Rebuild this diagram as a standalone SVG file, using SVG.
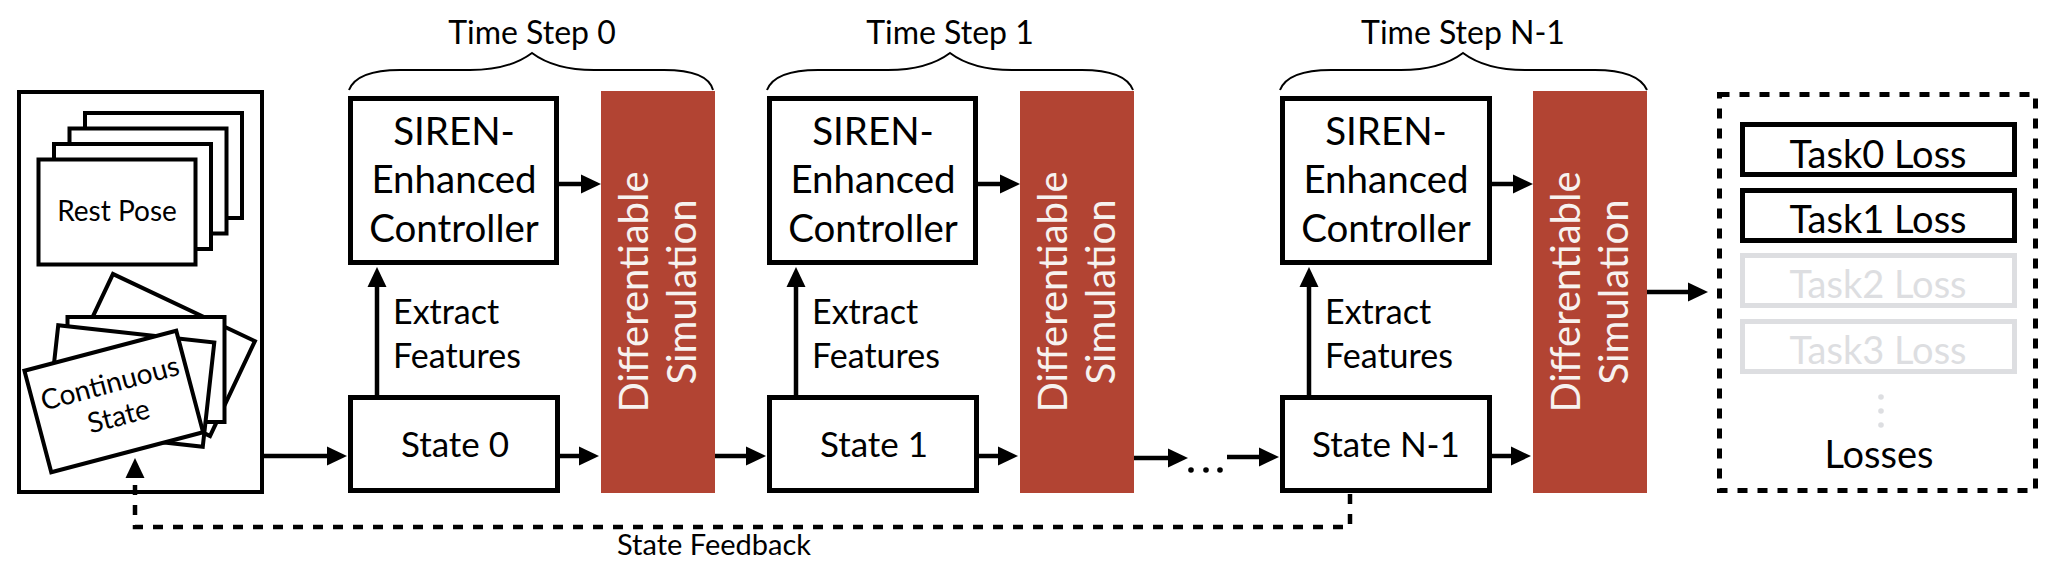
<svg xmlns="http://www.w3.org/2000/svg" width="2048" height="572" viewBox="0 0 2048 572">
<defs>
<style>
text{font-family:Lato,"Open Sans","Liberation Sans",sans-serif;fill:#000}
.box{fill:#fff;stroke:#000;stroke-width:5}
.card{fill:#fff;stroke:#000;stroke-width:4}
.sim{fill:#b24433}
.simt{fill:#f7f2ef;font-size:40px;text-anchor:middle}
.ctl{font-size:38.5px;text-anchor:middle}
.st{font-size:35px;text-anchor:middle}
.ex{font-size:34px}
.ts{font-size:32px;text-anchor:middle}
.brace{fill:none;stroke:#000;stroke-width:2}
.conn{fill:none;stroke:#000;stroke-width:4.5}
.dash{fill:none;stroke:#000;stroke-width:4.5;stroke-dasharray:10 10}
.task{fill:#fff;stroke:#000;stroke-width:5}
.taskg{fill:#fff;stroke:#dddee1;stroke-width:5}
.tt{font-size:38px;text-anchor:middle}
.ttg{font-size:38px;text-anchor:middle;fill:#dddee1}
</style>
<marker id="ah" viewBox="0 0 20 20" refX="0" refY="10" markerWidth="20" markerHeight="20" markerUnits="userSpaceOnUse" orient="auto">
<path d="M0,0.5 L20,10 L0,19.5 Z" fill="#000"/>
</marker>
</defs>
<rect width="2048" height="572" fill="#fff"/>

<g id="input">
<rect x="19" y="92" width="243" height="400" fill="#fff" stroke="#000" stroke-width="4"/>
<g id="rest-pose">
<rect class="card" x="85" y="113" width="157" height="105"/>
<rect class="card" x="69.5" y="128.5" width="157" height="105"/>
<rect class="card" x="54" y="144" width="157" height="105"/>
<rect class="card" x="38.5" y="159.5" width="157" height="105"/>
<text x="117" y="221" font-size="28" text-anchor="middle">Rest Pose</text>
</g>
<g id="continuous-state">
<rect class="card" x="-78.5" y="-52.5" width="157" height="105" transform="translate(161.5,355) rotate(25.3)"/>
<rect class="card" x="-78.5" y="-52.5" width="157" height="105" transform="translate(146,369.5)"/>
<rect class="card" x="-78.5" y="-52.5" width="157" height="105" transform="translate(130.5,386) rotate(6.3)"/>
<g transform="translate(113.75,401.5) rotate(-14.8)">
<rect class="card" x="-78.5" y="-52.5" width="157" height="105"/>
<text x="1" y="-9" font-size="28" text-anchor="middle">Continuous</text>
<text x="1" y="25" font-size="28" text-anchor="middle">State</text>
</g>
</g>
</g>

<g id="step0">
<path class="brace" d="M349,90 C355,75 375,70 400,70 L470,70 C500,70 520,62 532,53 C544,62 564,70 594,70 L664,70 C689,70 709,75 713,90"/>
<text class="ts" x="532" y="44">Time Step 0</text>
<g id="controller0">
<rect class="box" x="350.5" y="98.5" width="206" height="164"/>
<text class="ctl" x="454" y="145">SIREN-</text>
<text class="ctl" x="454" y="193">Enhanced</text>
<text class="ctl" x="454" y="242">Controller</text>
</g>
<g id="state0">
<rect class="box" x="350.5" y="397.5" width="207" height="93"/>
<text class="st" x="455" y="457">State 0</text>
</g>
<text class="ex" x="393" y="324">Extract</text>
<text class="ex" x="393" y="368">Features</text>
<g id="sim0">
<rect class="sim" x="601" y="91" width="114" height="402"/>
<text class="simt" transform="translate(648,292) rotate(-90)">Differentiable</text>
<text class="simt" transform="translate(696,292) rotate(-90)">Simulation</text>
</g>
</g>

<g id="step1">
<path class="brace" d="M767,90 C773,75 793,70 818,70 L888,70 C918,70 938,62 950,53 C962,62 982,70 1012,70 L1082,70 C1107,70 1127,75 1133,90"/>
<text class="ts" x="950" y="44">Time Step 1</text>
<g id="controller1">
<rect class="box" x="769.5" y="98.5" width="206" height="164"/>
<text class="ctl" x="873" y="145">SIREN-</text>
<text class="ctl" x="873" y="193">Enhanced</text>
<text class="ctl" x="873" y="242">Controller</text>
</g>
<g id="state1">
<rect class="box" x="769.5" y="397.5" width="207" height="93"/>
<text class="st" x="874" y="457">State 1</text>
</g>
<text class="ex" x="812" y="324">Extract</text>
<text class="ex" x="812" y="368">Features</text>
<g id="sim1">
<rect class="sim" x="1020" y="91" width="114" height="402"/>
<text class="simt" transform="translate(1067,292) rotate(-90)">Differentiable</text>
<text class="simt" transform="translate(1115,292) rotate(-90)">Simulation</text>
</g>
</g>

<g id="stepN">
<path class="brace" d="M1280,90 C1286,75 1306,70 1331,70 L1401,70 C1431,70 1451,62 1463,53 C1475,62 1495,70 1525,70 L1595,70 C1620,70 1640,75 1647,90"/>
<text class="ts" x="1463" y="44">Time Step N-1</text>
<g id="controllerN">
<rect class="box" x="1282.5" y="98.5" width="207" height="164"/>
<text class="ctl" x="1386" y="145">SIREN-</text>
<text class="ctl" x="1386" y="193">Enhanced</text>
<text class="ctl" x="1386" y="242">Controller</text>
</g>
<g id="stateN">
<rect class="box" x="1282.5" y="397.5" width="207" height="93"/>
<text class="st" x="1386" y="457">State N-1</text>
</g>
<text class="ex" x="1325" y="324">Extract</text>
<text class="ex" x="1325" y="368">Features</text>
<g id="simN">
<rect class="sim" x="1533" y="91" width="114" height="402"/>
<text class="simt" transform="translate(1580,292) rotate(-90)">Differentiable</text>
<text class="simt" transform="translate(1628,292) rotate(-90)">Simulation</text>
</g>
</g>

<g id="ellipsis">
<circle cx="1191" cy="470" r="2.8"/>
<circle cx="1206" cy="470" r="2.8"/>
<circle cx="1220" cy="470" r="2.8"/>
</g>

<g id="losses">
<rect x="1719.5" y="94.5" width="316" height="396" fill="#fff" stroke="#000" stroke-width="5" stroke-dasharray="10 10"/>
<rect class="task" x="1742.5" y="124.5" width="272" height="50"/>
<text class="tt" x="1878" y="168">Task0 Loss</text>
<rect class="task" x="1742.5" y="190.5" width="272" height="50"/>
<text class="tt" x="1878" y="233">Task1 Loss</text>
<rect class="taskg" x="1742.5" y="255.5" width="272" height="50"/>
<text class="ttg" x="1878" y="298">Task2 Loss</text>
<rect class="taskg" x="1742.5" y="321.5" width="272" height="50"/>
<text class="ttg" x="1878" y="364">Task3 Loss</text>
<circle cx="1881" cy="397" r="2.8" fill="#dddee1"/>
<circle cx="1881" cy="411" r="2.8" fill="#dddee1"/>
<circle cx="1881" cy="425" r="2.8" fill="#dddee1"/>
<text class="tt" x="1879" y="468">Losses</text>
</g>

<g id="connectors">
<path class="conn" marker-end="url(#ah)" d="M262,456 H327"/>
<path class="conn" marker-end="url(#ah)" d="M559,184 H581"/>
<path class="conn" marker-end="url(#ah)" d="M560,456 H579"/>
<path class="conn" marker-end="url(#ah)" d="M377,395 V287"/>
<path class="conn" marker-end="url(#ah)" d="M715,456 H746"/>
<path class="conn" marker-end="url(#ah)" d="M978,184 H1000"/>
<path class="conn" marker-end="url(#ah)" d="M979,456 H998"/>
<path class="conn" marker-end="url(#ah)" d="M796,395 V287"/>
<path class="conn" marker-end="url(#ah)" d="M1134,458 H1168"/>
<path class="conn" marker-end="url(#ah)" d="M1227,457 H1259"/>
<path class="conn" marker-end="url(#ah)" d="M1492,184 H1513"/>
<path class="conn" marker-end="url(#ah)" d="M1492,456 H1511"/>
<path class="conn" marker-end="url(#ah)" d="M1309,395 V287"/>
<path class="conn" marker-end="url(#ah)" d="M1647,292 H1688"/>
<path class="dash" marker-end="url(#ah)" d="M1350,494 V527 H135 V478"/>
<text x="714" y="555" font-size="29" text-anchor="middle">State Feedback</text>
</g>
</svg>
